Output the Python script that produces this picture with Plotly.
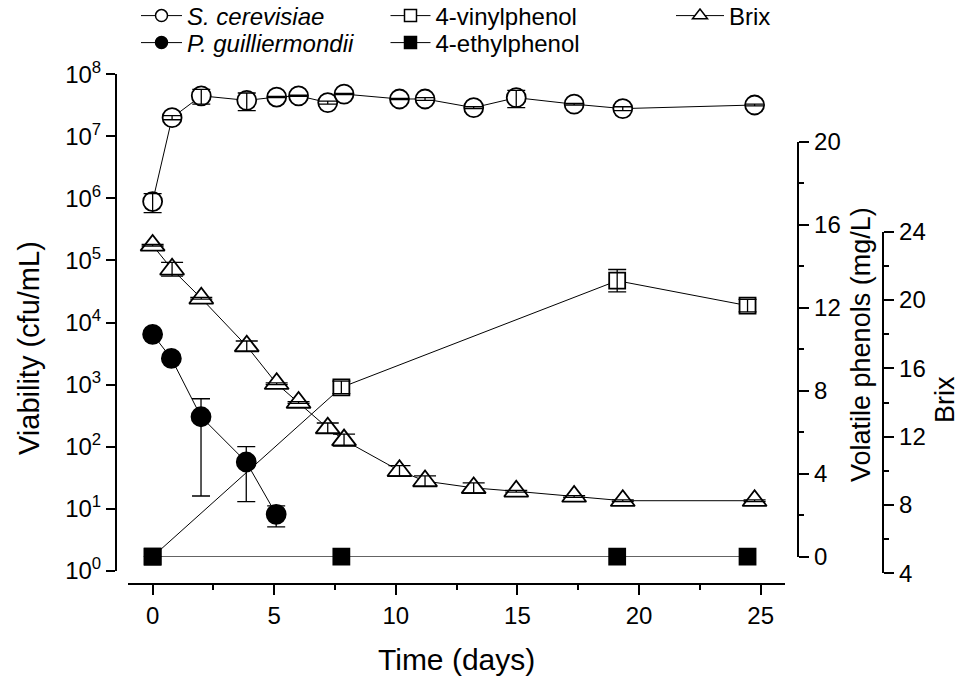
import plotly.graph_objects as go

# ---------------- data ----------------
days = [0, 0.8, 2.0, 3.87, 5.1, 6.0, 7.2, 7.87, 10.15, 11.2, 13.2, 14.95, 17.33, 19.33, 24.75]

s_cerevisiae = [8.9e5, 2.0e7, 4.5e7, 3.8e7, 4.3e7, 4.5e7, 3.5e7, 4.8e7, 4.0e7, 4.0e7, 2.9e7, 4.2e7, 3.3e7, 2.8e7, 3.2e7]
s_cerevisiae_err = [3e5, 1.5e6, 1.2e7, 1.2e7, 1e6, 1e6, 2e6, 1e6, 1e6, 2e6, 1e6, 1.3e7, 1e6, 2e6, 1e6]

brix = [23.2, 21.8, 20.1, 17.3, 15.1, 14.0, 12.5, 11.8, 10.0, 9.4, 9.0, 8.8, 8.5, 8.25, 8.25]
brix_err = [0.05, 0.4, 0.05, 0.3, 0.05, 0.05, 0.3, 0.35, 0.3, 0.3, 0.3, 0.05, 0.05, 0.05, 0.05]

days_pg = [0, 0.77, 1.99, 3.85, 5.08]
p_guilliermondii = [6460, 2640, 303, 56.5, 8.1]
p_guilliermondii_err = [0, 0, 287, 43.5, 3]

days_phenol = [0, 7.76, 19.1, 24.46]
vinylphenol = [0, 8.16, 13.3, 12.1]
vinylphenol_err = [0, 0.3, 0.54, 0.3]
ethylphenol = [0, 0, 0, 0]

x_ticks = [0, 5, 10, 15, 20, 25]
log_ticks = [10 ** k for k in range(0, 9)]
log_ticktext = ["10<sup>%d</sup>" % k for k in range(0, 9)]
phenol_ticks = [0, 4, 8, 12, 16, 20]
brix_ticks = [4, 8, 12, 16, 20, 24]

# ---------------- layout geometry (window pixels, page margin removed) ----------------
W, H = 961, 687
FONT = "Liberation Sans, Arial, sans-serif"


def px(xp):
    return xp / W


def py(yp):
    return 1 - yp / H


fig = go.Figure()


def add_series(x, y, err, name, symbol, fill, size, xa, ya, legend, capw):
    # data line + markers
    fig.add_trace(go.Scatter(
        x=x, y=y, name=name, mode="lines+markers", xaxis=xa, yaxis=ya,
        line=dict(color="black", width=1),
        marker=dict(symbol=symbol, size=size, color=fill,
                    line=dict(color="black", width=1.8)),
        cliponaxis=False, showlegend=False, hoverinfo="skip"))
    # error bars drawn on top of the filled markers
    if err is not None:
        fig.add_trace(go.Scatter(
            x=x, y=y, mode="markers", xaxis=xa, yaxis=ya, showlegend=False,
            marker=dict(symbol=symbol, size=size, color="rgba(0,0,0,0)",
                        line=dict(width=0)),
            error_y=dict(type="data", array=err, color="black",
                         thickness=1.3, width=capw),
            cliponaxis=False, hoverinfo="skip"))
    # legend entry (small symbol, thin line)
    fig.add_trace(go.Scatter(
        x=[None], y=[None], name=name, mode="lines+markers", xaxis=xa, yaxis=ya,
        line=dict(color="black", width=1),
        marker=dict(symbol=symbol, size=12 if symbol != "triangle-up" else 13,
                    color=fill, line=dict(color="black", width=1.5)),
        legend=legend, hoverinfo="skip"))


add_series(days, s_cerevisiae, s_cerevisiae_err, "<i>S. cerevisiae</i>",
           "circle", "white", 19, "x", "y", "legend", 9)
add_series(days_pg, p_guilliermondii, p_guilliermondii_err,
           "<i>P. guilliermondii</i>", "circle", "black", 19, "x", "y", "legend4", 9)
add_series(days_phenol, vinylphenol, vinylphenol_err, "4-vinylphenol",
           "square", "white", 16, "x2", "y2", "legend2", 9)
add_series(days_phenol, ethylphenol, None, "4-ethylphenol",
           "square", "black", 16, "x2", "y2", "legend5", 9)
add_series(days, brix, brix_err, "Brix",
           "triangle-up", "white", 21, "x3", "y3", "legend3", 11)

xdom = [px(128.3), px(785)]
axis_common = dict(showline=True, linecolor="black", linewidth=2, showgrid=False,
                   zeroline=False, ticks="outside", tickwidth=2, tickcolor="black",
                   tickfont=dict(family=FONT, size=24, color="black"))
minor_common = dict(ticks="outside", ticklen=5, tickwidth=2, tickcolor="black")
legend_common = dict(yanchor="middle", xanchor="left", orientation="v",
                     bgcolor="rgba(0,0,0,0)", borderwidth=0,
                     font=dict(family=FONT, size=24, color="black"))
ROW1, ROW2 = 16, 43

fig.update_layout(
    width=W, height=H,
    margin=dict(l=0, r=0, t=0, b=0, autoexpand=False),
    paper_bgcolor="white", plot_bgcolor="rgba(0,0,0,0)",
    font=dict(family=FONT, color="black"),
    xaxis=dict(domain=xdom, range=[-1, 26], anchor="free", position=py(584.3),
               tickvals=x_ticks, ticklen=10,
               minor=dict(dtick=2.5, tick0=0, **minor_common),
               **axis_common),
    yaxis=dict(type="log", range=[0, 8], domain=[py(570.7), py(74.3)],
               anchor="free", position=px(116), side="left",
               tickvals=log_ticks, ticktext=log_ticktext, ticklen=9,
               **axis_common),
    xaxis2=dict(domain=xdom, range=[-1, 26], anchor="y2", matches="x", visible=False),
    yaxis2=dict(range=[0, 20], domain=[py(556.7), py(141.7)], anchor="free",
                position=px(798.3), side="right", tickvals=phenol_ticks, ticklen=10,
                minor=dict(dtick=2, tick0=0, **minor_common),
                **axis_common),
    xaxis3=dict(domain=xdom, range=[-1, 26], anchor="y3", matches="x", visible=False),
    yaxis3=dict(range=[4, 24], domain=[py(573.3), py(231.7)], anchor="free",
                position=px(883.3), side="right", tickvals=brix_ticks, ticklen=10,
                minor=dict(dtick=2, tick0=0, **minor_common),
                **axis_common),
    legend=dict(x=px(136), y=py(ROW1), itemwidth=41, **legend_common),
    legend4=dict(x=px(136), y=py(ROW2), itemwidth=41, **legend_common),
    legend2=dict(x=px(385.5), y=py(ROW1), itemwidth=40, **legend_common),
    legend5=dict(x=px(385.5), y=py(ROW2), itemwidth=40, **legend_common),
    legend3=dict(x=px(671), y=py(ROW1), itemwidth=48, **legend_common),
    annotations=[
        dict(text="Viability (cfu/mL)", x=px(29), y=py(348), xref="paper", yref="paper",
             xanchor="center", yanchor="middle", textangle=-90, showarrow=False,
             font=dict(family=FONT, size=29, color="black")),
        dict(text="Volatile phenols (mg/L)", x=px(861), y=py(345), xref="paper",
             yref="paper", xanchor="center", yanchor="middle", textangle=-90,
             showarrow=False, font=dict(family=FONT, size=27, color="black")),
        dict(text="Brix", x=px(945), y=py(400), xref="paper", yref="paper",
             xanchor="center", yanchor="middle", textangle=-90, showarrow=False,
             font=dict(family=FONT, size=27, color="black")),
        dict(text="Time (days)", x=px(456), y=py(659), xref="paper", yref="paper",
             xanchor="center", yanchor="middle", showarrow=False,
             font=dict(family=FONT, size=30, color="black")),
    ],
)

# remove the browser's default 8px page margin so the figure fills the window exactly
fig.write_html("out.html",
               config={"displayModeBar": False},
               post_script="document.body.style.margin='0px';"
                           "document.body.style.overflow='hidden';")
